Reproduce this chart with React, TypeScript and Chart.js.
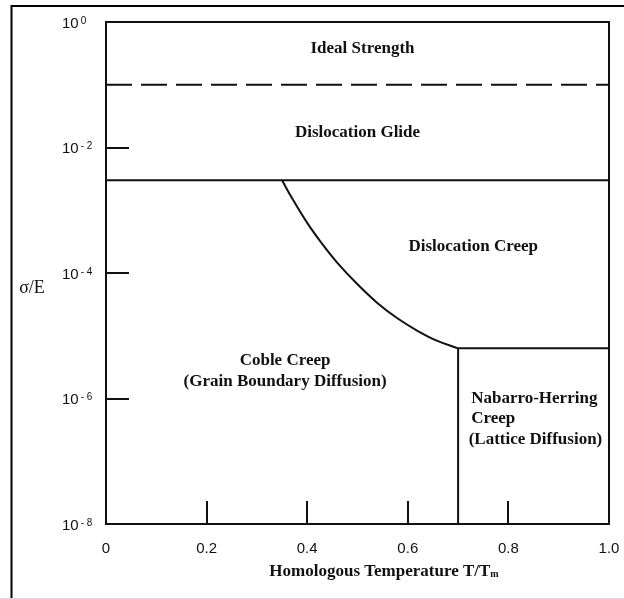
import React, { useEffect, useRef } from "react";
import { Chart, registerables } from "chart.js";
Chart.register(...registerables);

// Boundary curve between Coble creep and dislocation creep
const curveT = [0.35, 0.37, 0.4, 0.43, 0.46, 0.5, 0.54, 0.58, 0.62, 0.66, 0.7];
const curveS = [3.0e-3, 1.55e-3, 6.3e-4, 2.9e-4, 1.45e-4, 6.6e-5, 3.3e-5, 1.88e-5, 1.19e-5, 8.2e-6, 6.3e-6];
// Ideal strength / glide boundary (dashed)
const idealT = [0, 1];
const idealS = [0.1, 0.1];
// Glide / creep boundary
const glideT = [0, 1];
const glideS = [3e-3, 3e-3];
// Nabarro-Herring region boundaries
const nhTopT = [0.7, 1];
const nhTopS = [6.3e-6, 6.3e-6];
const nhLeftT = [0.7, 0.7];
const nhLeftS = [6.3e-6, 1e-8];

const xTickValues = [0, 0.2, 0.4, 0.6, 0.8, 1.0];
const xTickLabels = ["0", "0.2", "0.4", "0.6", "0.8", "1.0"];
const xInnerTicks = [0.2, 0.4, 0.6, 0.8];
const yTickExps = [0, -2, -4, -6, -8];
const yTickExpLabels = ["0", "- 2", "- 4", "- 6", "- 8"];
const yInnerTicks = [1e-2, 1e-4, 1e-6];

const regionTexts = ["Ideal Strength", "Dislocation Glide", "Dislocation Creep", "Coble Creep", "(Grain Boundary Diffusion)", "Nabarro-Herring", "Creep", "(Lattice Diffusion)"];
const regionAnchorT = [0.51, 0.5, 0.73, 0.356, 0.356, 0.726, 0.726, 0.721];
const regionAnchorS = [0.38, 0.0173, 2.6e-4, 4.0e-6, 1.85e-6, 1.0e-6, 4.8e-7, 2.2e-7];
const regionAlign = ["center", "center", "center", "center", "center", "left", "left", "left"];

const xTitle = "Homologous Temperature T/T";
const xTitleSub = "m";
const yTitle = "σ/E";

const INK = "#111111";

function pts(xs: number[], ys: number[]) {
  return xs.map((x, i) => ({ x, y: ys[i] }));
}

const decorPlugin = {
  id: "decor",
  afterDraw(chart: any) {
    const ctx = chart.ctx as CanvasRenderingContext2D;
    const xs = chart.scales.x;
    const ys = chart.scales.y;
    const a = chart.chartArea;
    ctx.save();
    // outer frame
    ctx.strokeStyle = "#000";
    ctx.lineWidth = 2;
    ctx.beginPath();
    ctx.moveTo(11.5, 598);
    ctx.lineTo(11.5, 6);
    ctx.lineTo(630, 6);
    ctx.stroke();
    ctx.strokeStyle = "#d8d8d8";
    ctx.lineWidth = 1;
    ctx.beginPath();
    ctx.moveTo(0, 598.5);
    ctx.lineTo(624, 598.5);
    ctx.stroke();

    // plot box
    ctx.strokeStyle = INK;
    ctx.lineWidth = 2;
    ctx.strokeRect(a.left, a.top, a.right - a.left, a.bottom - a.top);

    // inner ticks
    ctx.beginPath();
    for (const v of xInnerTicks) {
      const px = Math.round(xs.getPixelForValue(v));
      ctx.moveTo(px, a.bottom);
      ctx.lineTo(px, a.bottom - 23);
    }
    for (const v of yInnerTicks) {
      const py = Math.round(ys.getPixelForValue(v));
      ctx.moveTo(a.left, py);
      ctx.lineTo(a.left + 23, py);
    }
    ctx.stroke();

    // x tick labels
    ctx.fillStyle = INK;
    ctx.font = "15px 'Liberation Sans', Arial, sans-serif";
    ctx.textAlign = "center";
    ctx.textBaseline = "alphabetic";
    xTickValues.forEach((v, i) => {
      ctx.fillText(xTickLabels[i], xs.getPixelForValue(v), a.bottom + 29);
    });

    // y tick labels
    yTickExps.forEach((e, i) => {
      const py = ys.getPixelForValue(Math.pow(10, e));
      ctx.font = "15px 'Liberation Sans', Arial, sans-serif";
      ctx.textAlign = "left";
      const base = py + 5.5;
      ctx.fillText("10", 62, base);
      const w = ctx.measureText("10").width;
      ctx.font = "10px 'Liberation Sans', Arial, sans-serif";
      ctx.fillText(yTickExpLabels[i], 62 + w + 2, base - 4);
    });

    // axis titles
    const bigF = "bold 17px 'Liberation Serif', 'Times New Roman', serif";
    const subF = "bold 10px 'Liberation Serif', 'Times New Roman', serif";
    ctx.textAlign = "left";
    ctx.font = bigF;
    const tw = ctx.measureText(xTitle).width;
    ctx.font = subF;
    const sw = ctx.measureText(xTitleSub).width;
    const cx = 384;
    const startX = cx - (tw + sw) / 2;
    ctx.font = bigF;
    ctx.fillText(xTitle, startX, 576);
    ctx.font = subF;
    ctx.fillText(xTitleSub, startX + tw, 577);

    ctx.font = "18px 'Liberation Serif', 'Times New Roman', serif";
    ctx.textAlign = "center";
    ctx.textBaseline = "middle";
    ctx.fillText(yTitle, 32, 288);

    // region labels
    ctx.font = "bold 17px 'Liberation Serif', 'Times New Roman', serif";
    ctx.textBaseline = "middle";
    regionTexts.forEach((t, i) => {
      ctx.textAlign = regionAlign[i] as CanvasTextAlign;
      ctx.fillText(t, xs.getPixelForValue(regionAnchorT[i]), ys.getPixelForValue(regionAnchorS[i]));
    });
    ctx.restore();
  },
};

export default function App() {
  const ref = useRef<HTMLCanvasElement | null>(null);
  useEffect(() => {
    if (!ref.current) return;
    const lineStyle = {
      showLine: true,
      borderColor: INK,
      borderWidth: 2,
      pointRadius: 0,
      fill: false,
    };
    const chart = new Chart(ref.current, {
      type: "scatter",
      data: {
        datasets: [
          { ...lineStyle, data: pts(idealT, idealS), borderDash: [26, 9] },
          { ...lineStyle, data: pts(glideT, glideS) },
          { ...lineStyle, data: pts(curveT, curveS), tension: 0.4 },
          { ...lineStyle, data: pts(nhTopT, nhTopS) },
          { ...lineStyle, data: pts(nhLeftT, nhLeftS) },
        ] as any,
      },
      options: {
        responsive: false,
        animation: false,
        events: [],
        layout: { padding: { left: 106, top: 22, right: 15, bottom: 75 } },
        plugins: { legend: { display: false }, tooltip: { enabled: false } },
        scales: {
          x: { type: "linear", min: 0, max: 1, display: false },
          y: { type: "logarithmic", min: 1e-8, max: 1, display: false },
        },
      },
      plugins: [decorPlugin],
    });
    return () => chart.destroy();
  }, []);
  return (
    <div style={{ position: "fixed", left: 0, top: 0, width: 624, height: 599, background: "#fff" }}>
      <canvas ref={ref} width={624} height={599} style={{ display: "block" }} />
    </div>
  );
}
